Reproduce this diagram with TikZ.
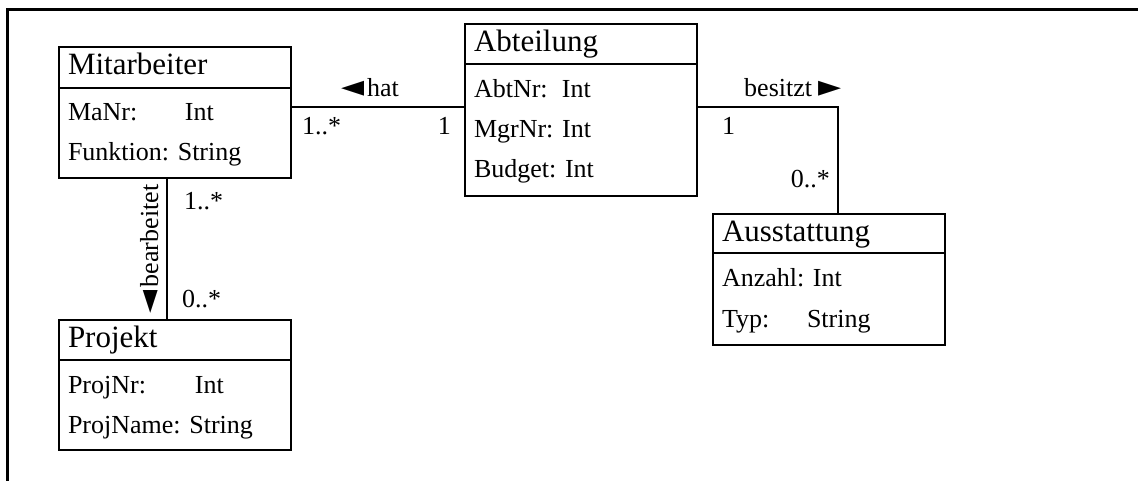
\documentclass[tikz,border=0pt]{standalone}
\usepackage{fontspec}
\setmainfont{Liberation Serif}
\newfontfamily\symfont{DejaVu Sans}
\usetikzlibrary{positioning}
\frenchspacing

\newcommand{\tri}[1]{{\symfont\fontsize{30}{30}\selectfont #1}}

\tikzset{
  classhead/.style={draw, line width=2.5pt, anchor=north west, outer sep=0pt, inner xsep=9pt, inner ysep=0pt, text width=214pt, align=left, text height=22pt, text depth=7pt, font=\fontsize{31}{36}\selectfont},
  classbody/.style={draw, line width=2.5pt, outer sep=0pt, inner xsep=9pt, inner ysep=0pt, text width=214pt, align=left, font=\fontsize{26}{40}\selectfont},
  assoc/.style={line width=2pt},
  lbl/.style={inner sep=0pt, font=\fontsize{26}{30}\selectfont},
}

\begin{document}
\begin{tikzpicture}[x=1pt,y=-1pt]
\useasboundingbox (0,0) rectangle (1138,481);
\draw [line width=3pt] (7,481) -- (7,10) -- (1138,10);

% classes
\node [classhead, minimum height=41pt] (mith) at (59,47) {Mitarbeiter};
\node [classbody, minimum height=90pt, below=0pt of mith] (mitb) {\makebox[117pt][l]{MaNr:}Int\strut\\Funktion: String\strut};

\node [classhead, minimum height=40pt] (abth) at (465,24) {Abteilung};
\node [classbody, minimum height=132pt, below=0pt of abth] (abtb) {\makebox[88pt][l]{AbtNr:}Int\strut\\MgrNr: Int\strut\\Budget: Int\strut};

\node [classhead, minimum height=39pt] (aush) at (713,214) {Ausstattung};
\node [classbody, minimum height=92pt, below=0pt of aush] (ausb) {Anzahl: Int\strut\\\makebox[85pt][l]{Typ:}String\strut};

\node [classhead, minimum height=40pt] (projh) at (59,320) {Projekt};
\node [classbody, minimum height=90pt, below=0pt of projh] (projb) {\makebox[127pt][l]{ProjNr:}Int\strut\\ProjName: String\strut};

% associations
\coordinate (hatL) at ([yshift=-19pt]mitb.north east);
\draw [assoc] (hatL) -- (hatL -| abtb.west);
\draw [assoc] (hatL -| abtb.east) -| ([xshift=9pt]aush.north);
\draw [assoc] ([xshift=-8pt]mitb.south) -- ([xshift=-8pt]projh.north);

\node [lbl, anchor=base] (hatlbl) at (370,97) {\tri{◄}\hspace{3pt}hat};
\node [lbl, anchor=base west] (hatmit) at (302,135) {1..*};
\node [lbl, anchor=base east] (hatabt) at (451,135) {1};
\node [lbl, anchor=base west] (beslbl) at (744,97) {besitzt\hspace{6pt}\tri{►}};
\node [lbl, anchor=base west] (besabt) at (722,135) {1};
\node [lbl, anchor=base east] (besaus) at (830,188) {0..*};
\node [lbl, anchor=base west] (bearmit) at (184,210) {1..*};
\node [lbl, anchor=base west] (bearproj) at (182,307) {0..*};
\node [lbl, rotate=90, anchor=base] (bearlbl) at (158,249) {\tri{◄}\hspace{3pt}bearbeitet};

\end{tikzpicture}
\end{document}
